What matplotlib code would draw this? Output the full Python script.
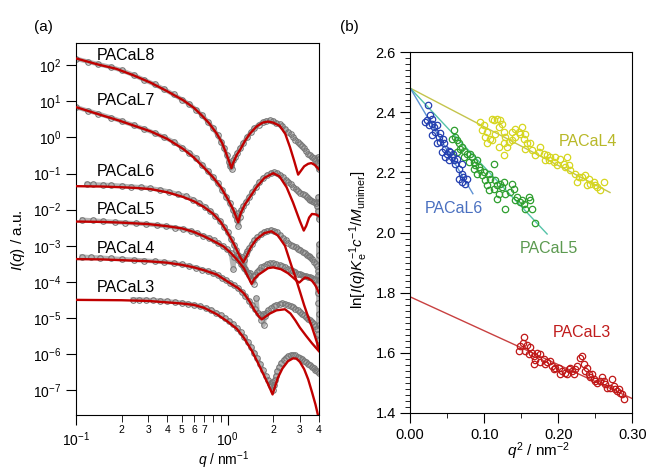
import numpy as np
import matplotlib
matplotlib.use("Agg")
import matplotlib.pyplot as plt
from matplotlib.ticker import NullLocator, FixedLocator

plt.rcParams['font.family'] = ['Liberation Sans', 'DejaVu Sans']
plt.rcParams['mathtext.fontset'] = 'custom'
plt.rcParams['mathtext.rm'] = 'Liberation Sans'
plt.rcParams['mathtext.it'] = 'Liberation Sans:italic'
plt.rcParams['mathtext.bf'] = 'Liberation Sans:bold'

# ---------------- panel (a): SAXS profiles, values as (q, log10 I) ----------------
samples = ['PACaL8', 'PACaL7', 'PACaL6', 'PACaL5', 'PACaL4', 'PACaL3']

fit_q = {
    'PACaL8': [0.10, 0.14, 0.185, 0.24, 0.31, 0.40, 0.51, 0.60, 0.68, 0.76, 0.85, 0.92, 0.98, 1.03, 1.06,
               1.09, 1.15, 1.21, 1.30, 1.40, 1.55, 1.70, 1.85, 2.00, 2.21, 2.40, 2.58, 2.75, 2.92, 3.05,
               3.20, 3.40, 3.57, 3.75, 4.00],
    'PACaL7': [0.10, 0.144, 0.195, 0.24, 0.31, 0.40, 0.51, 0.60, 0.70, 0.80, 0.90, 1.00, 1.09, 1.175,
               1.22, 1.30, 1.40, 1.55, 1.75, 2.00, 2.20, 2.45, 2.70, 3.00, 3.18, 3.30, 3.45, 3.60, 3.80, 4.00],
    'PACaL6': [0.10, 0.15, 0.20, 0.25, 0.31, 0.40, 0.51, 0.60, 0.70, 0.80, 0.90, 1.00, 1.10, 1.20, 1.27,
               1.33, 1.42, 1.55, 1.75, 1.95, 2.15, 2.39, 2.64, 2.78, 3.00, 3.20, 3.40, 3.60, 3.80, 4.00],
    'PACaL5': [0.10, 0.15, 0.20, 0.30, 0.40, 0.50, 0.60, 0.70, 0.80, 0.94, 1.05, 1.15, 1.28, 1.36, 1.44,
               1.50, 1.60, 1.71, 1.85, 2.00, 2.25, 2.50, 2.70, 2.85, 2.97, 3.10, 3.24, 3.40, 3.60, 3.80, 4.00],
    'PACaL4': [0.10, 0.15, 0.20, 0.30, 0.40, 0.50, 0.60, 0.70, 0.85, 0.94, 1.05, 1.17, 1.28, 1.40, 1.50,
               1.60, 1.68, 1.76, 1.90, 2.10, 2.39, 2.60, 2.80, 3.00, 3.30, 3.60, 4.00],
    'PACaL3': [0.10, 0.20, 0.30, 0.40, 0.50, 0.60, 0.70, 0.85, 1.00, 1.15, 1.28, 1.45, 1.60, 1.75, 1.87,
               1.98, 2.05, 2.15, 2.30, 2.50, 2.70, 2.85, 3.00, 3.20, 3.40, 3.60, 3.80, 4.00],
}
fit_logI = {
    'PACaL8': [2.19, 2.02, 1.90, 1.72, 1.52, 1.28, 1.03, 0.82, 0.60, 0.38, 0.10, -0.15, -0.45, -0.70, -0.85,
               -0.70, -0.48, -0.34, -0.10, 0.10, 0.30, 0.41, 0.44, 0.41, 0.32, 0.10, -0.27, -0.65, -1.03, -0.92,
               -0.80, -0.73, -0.71, -0.76, -0.88],
    'PACaL7': [0.84, 0.63, 0.46, 0.33, 0.17, -0.04, -0.32, -0.56, -0.84, -1.10, -1.37, -1.70, -2.00, -2.35,
               -2.10, -1.86, -1.66, -1.38, -1.12, -0.99, -1.08, -1.38, -1.80, -2.32, -2.58, -2.45, -2.22, -2.12,
               -2.13, -2.18],
    'PACaL6': [-1.35, -1.36, -1.38, -1.40, -1.43, -1.52, -1.65, -1.77, -1.93, -2.11, -2.34, -2.64, -2.95,
               -3.28, -3.46, -3.30, -3.05, -2.82, -2.65, -2.60, -2.72, -3.00, -3.56, -3.83, -4.27, -4.65, -4.97,
               -5.25, -5.55, -5.85],
    'PACaL5': [-2.33, -2.34, -2.36, -2.40, -2.46, -2.52, -2.62, -2.74, -2.86, -3.02, -3.20, -3.38, -3.62,
               -3.85, -4.06, -3.92, -3.80, -3.72, -3.62, -3.60, -3.65, -3.76, -3.88, -3.97, -4.02, -3.95, -3.88,
               -3.90, -3.97, -4.10, -4.30],
    'PACaL4': [-3.37, -3.38, -3.40, -3.43, -3.47, -3.53, -3.60, -3.68, -3.80, -3.92, -4.05, -4.17, -4.32,
               -4.55, -4.78, -4.95, -5.04, -4.98, -4.88, -4.79, -4.76, -4.88, -5.07, -5.27, -5.50, -5.70, -5.92],
    'PACaL3': [-4.50, -4.51, -4.53, -4.57, -4.60, -4.64, -4.72, -4.90, -5.10, -5.30, -5.55, -5.92, -6.28,
               -6.62, -6.88, -7.12, -6.92, -6.65, -6.40, -6.20, -6.12, -6.13, -6.22, -6.42, -6.70, -7.05, -7.40,
               -7.80],
}

dat_q = {
    'PACaL8': [0.10, 0.12, 0.14, 0.17, 0.20, 0.24, 0.28, 0.33, 0.38, 0.44, 0.50, 0.56, 0.62, 0.68, 0.74,
               0.80, 0.86, 0.91, 0.95, 0.99, 1.02, 1.04, 1.06, 1.07, 1.09, 1.12, 1.16, 1.21, 1.27, 1.34, 1.42,
               1.50, 1.60, 1.70, 1.80, 1.90, 2.00, 2.10, 2.20, 2.30, 2.40, 2.50, 2.60, 2.70, 2.80, 2.90, 3.00,
               3.10, 3.20, 3.30, 3.40, 3.50, 3.60, 3.70, 3.80, 3.90, 3.95, 4.00, 3.98, 3.92],
    'PACaL7': [0.10, 0.12, 0.14, 0.17, 0.20, 0.24, 0.28, 0.33, 0.38, 0.44, 0.50, 0.56, 0.62, 0.68, 0.74,
               0.80, 0.86, 0.92, 0.98, 1.03, 1.08, 1.12, 1.15, 1.17, 1.18, 1.20, 1.23, 1.27, 1.32, 1.38, 1.45,
               1.53, 1.62, 1.72, 1.82, 1.92, 2.02, 2.12, 2.22, 2.32, 2.42, 2.52, 2.62, 2.72, 2.82, 2.92, 3.02,
               3.12, 3.22, 3.32, 3.42, 3.52, 3.62, 3.72, 3.82, 3.90, 3.95, 3.98, 4.00, 3.97],
    'PACaL6': [0.118, 0.13, 0.15, 0.17, 0.20, 0.23, 0.27, 0.31, 0.36, 0.41, 0.47, 0.53, 0.59, 0.65, 0.71,
               0.77, 0.83, 0.89, 0.95, 1.00, 1.05, 1.10, 1.14, 1.18, 1.21, 1.24, 1.26, 1.28, 1.30, 1.32, 1.35,
               1.39, 1.44, 1.50, 1.57, 1.65, 1.73, 1.82, 1.92, 2.02, 2.12, 2.22, 2.32, 2.42, 2.52, 2.62, 2.72,
               2.82, 2.92, 3.02, 3.12, 3.22, 3.32, 3.42, 3.52, 3.62, 3.72, 3.82, 3.90, 3.95, 3.98, 4.00, 3.99],
    'PACaL5': [0.11, 0.13, 0.15, 0.18, 0.21, 0.25, 0.29, 0.34, 0.39, 0.45, 0.51, 0.57, 0.63, 0.69, 0.75,
               0.81, 0.87, 0.93, 0.99, 1.05, 1.09, 1.11, 1.17, 1.23, 1.29, 1.34, 1.38, 1.41, 1.44, 1.46, 1.49,
               1.52, 1.56, 1.61, 1.67, 1.74, 1.82, 1.90, 2.00, 2.10, 2.20, 2.30, 2.40, 2.50, 2.60, 2.70, 2.80,
               2.90, 3.00, 3.10, 3.20, 3.30, 3.40, 3.50, 3.60, 3.70, 3.80, 3.88, 3.94, 3.97, 4.00, 3.99, 3.96],
    'PACaL4': [0.109, 0.125, 0.145, 0.17, 0.20, 0.24, 0.28, 0.33, 0.38, 0.44, 0.50, 0.56, 0.62, 0.68, 0.74,
               0.80, 0.86, 0.92, 0.98, 1.04, 1.10, 1.17, 1.24, 1.31, 1.38, 1.45, 1.52, 1.55, 1.58, 1.63, 1.67,
               1.70, 1.73, 1.76, 1.80, 1.86, 1.93, 2.01, 2.10, 2.20, 2.30, 2.40, 2.50, 2.60, 2.70, 2.80, 2.90,
               3.00, 3.10, 3.20, 3.30, 3.40, 3.50, 3.60, 3.70, 3.80, 3.88, 3.94, 3.98, 4.00],
    'PACaL3': [0.237, 0.26, 0.29, 0.32, 0.36, 0.40, 0.45, 0.50, 0.55, 0.60, 0.66, 0.72, 0.78, 0.84, 0.90,
               0.96, 1.02, 1.08, 1.15, 1.22, 1.29, 1.36, 1.43, 1.50, 1.57, 1.64, 1.71, 1.78, 1.84, 1.89, 1.93,
               1.96, 1.98, 2.01, 2.04, 2.08, 2.13, 2.19, 2.26, 2.34, 2.42, 2.50, 2.60, 2.70, 2.80, 2.90, 3.00,
               3.10, 3.20, 3.30, 3.40, 3.50, 3.60, 3.70, 3.80, 3.90, 4.00],
}
dat_logI = {
    'PACaL8': [2.18, 2.10, 2.03, 1.95, 1.86, 1.73, 1.60, 1.47, 1.34, 1.19, 1.05, 0.92, 0.77, 0.61, 0.44,
               0.27, 0.06, -0.12, -0.30, -0.50, -0.68, -0.80, -0.75, -0.88, -0.62, -0.55, -0.42, -0.30, -0.15,
               0.00, 0.14, 0.25, 0.35, 0.42, 0.46, 0.47, 0.45, 0.41, 0.37, 0.31, 0.24, 0.16, 0.09, 0.02, -0.06,
               -0.12, -0.18, -0.24, -0.30, -0.38, -0.45, -0.50, -0.55, -0.58, -0.62, -0.70, -0.80, -0.88, -0.60,
               -0.55],
    'PACaL7': [0.84, 0.74, 0.66, 0.55, 0.45, 0.34, 0.24, 0.12, 0.01, -0.12, -0.28, -0.42, -0.58, -0.76, -0.93,
               -1.10, -1.27, -1.45, -1.64, -1.82, -2.00, -2.15, -2.30, -2.10, -2.45, -2.20, -2.02, -1.90, -1.78,
               -1.66, -1.52, -1.38, -1.24, -1.12, -1.04, -0.99, -0.97, -0.99, -1.04, -1.10, -1.17, -1.24, -1.30,
               -1.36, -1.42, -1.48, -1.53, -1.56, -1.60, -1.65, -1.70, -1.72, -1.76, -1.78, -1.82, -1.90, -2.05,
               -2.25, -1.80, -1.65],
    'PACaL6': [-1.29, -1.30, -1.31, -1.32, -1.34, -1.36, -1.38, -1.41, -1.45, -1.50, -1.57, -1.63, -1.72,
               -1.81, -1.92, -2.04, -2.17, -2.31, -2.47, -2.62, -2.80, -2.98, -3.12, -3.25, -3.35, -3.30, -3.55,
               -3.40, -3.65, -3.22, -3.15, -3.05, -2.95, -2.85, -2.76, -2.68, -2.62, -2.58, -2.56, -2.58, -2.63,
               -2.70, -2.78, -2.85, -2.92, -2.97, -3.00, -3.04, -3.08, -3.12, -3.16, -3.20, -3.25, -3.29, -3.32,
               -3.38, -3.44, -3.50, -3.55, -3.70, -3.25, -3.95, -2.95],
    'PACaL5': [-2.28, -2.30, -2.32, -2.34, -2.36, -2.38, -2.40, -2.43, -2.46, -2.50, -2.54, -2.59, -2.66,
               -2.72, -2.78, -2.85, -2.93, -3.02, -3.10, -3.20, -3.65, -3.30, -3.40, -3.52, -3.62, -3.72, -3.82,
               -3.75, -3.95, -3.85, -4.05, -3.80, -3.72, -3.66, -3.60, -3.55, -3.51, -3.49, -3.49, -3.51, -3.54,
               -3.57, -3.60, -3.64, -3.67, -3.71, -3.74, -3.77, -3.79, -3.81, -3.83, -3.85, -3.87, -3.88, -3.90,
               -3.92, -3.95, -4.05, -4.30, -4.60, -4.90, -5.20, -3.80],
    'PACaL4': [-3.30, -3.32, -3.33, -3.35, -3.37, -3.39, -3.41, -3.43, -3.45, -3.48, -3.52, -3.56, -3.61,
               -3.66, -3.71, -3.76, -3.82, -3.89, -3.96, -4.03, -4.10, -4.18, -4.28, -4.40, -4.52, -4.65, -4.75,
               -4.46, -4.85, -4.92, -5.05, -4.88, -5.20, -4.95, -4.85, -4.78, -4.72, -4.67, -4.63, -4.61, -4.60,
               -4.61, -4.63, -4.66, -4.70, -4.74, -4.78, -4.83, -4.88, -4.93, -4.98, -5.03, -5.07, -5.11, -5.16,
               -5.22, -5.30, -5.45, -5.60, -5.75],
    'PACaL3': [-4.49, -4.49, -4.50, -4.51, -4.52, -4.54, -4.56, -4.58, -4.61, -4.64, -4.68, -4.73, -4.78,
               -4.85, -4.92, -5.00, -5.08, -5.17, -5.28, -5.40, -5.53, -5.67, -5.81, -5.96, -6.12, -6.28, -6.45,
               -6.60, -6.72, -6.82, -6.90, -6.78, -7.00, -6.85, -6.72, -6.60, -6.48, -6.36, -6.25, -6.16, -6.10,
               -6.06, -6.03, -6.02, -6.04, -6.07, -6.11, -6.15, -6.19, -6.23, -6.27, -6.31, -6.35, -6.39, -6.43,
               -6.48, -6.52],
}

label_logI = {'PACaL8': 2.28, 'PACaL7': 1.03, 'PACaL6': -0.94,
              'PACaL5': -2.0, 'PACaL4': -3.08, 'PACaL3': -4.17}

# ---------------- panel (b): Guinier plots ----------------
q2_L6 = [0.0239, 0.0225, 0.0203, 0.027, 0.0293, 0.0248, 0.0315, 0.036, 0.0338, 0.0293, 0.0383, 0.0405,
         0.036, 0.045, 0.0473, 0.0428, 0.0496, 0.0541, 0.0473, 0.0563, 0.0518, 0.0586, 0.0608, 0.0631,
         0.0698, 0.0653, 0.0698, 0.072, 0.0766, 0.0653, 0.0698, 0.0743, 0.030, 0.040, 0.052, 0.058, 0.044]
ln_L6 = [2.423, 2.373, 2.368, 2.39, 2.376, 2.357, 2.351, 2.357, 2.334, 2.323, 2.318, 2.301,
         2.296, 2.296, 2.279, 2.268, 2.262, 2.268, 2.251, 2.251, 2.24, 2.24, 2.229, 2.246,
         2.229, 2.212, 2.196, 2.184, 2.179, 2.179, 2.168, 2.162, 2.36, 2.33, 2.27, 2.26, 2.31]

q2_L5 = [0.0586, 0.0608, 0.0563, 0.0631, 0.0653, 0.0676, 0.0698, 0.0721, 0.0631, 0.0766, 0.0811, 0.0721,
         0.0833, 0.0788, 0.0856, 0.0901, 0.0878, 0.0923, 0.0856, 0.0946, 0.0901, 0.0968, 0.0991, 0.1059,
         0.1126, 0.1081, 0.1014, 0.1036, 0.1059, 0.1149, 0.1171, 0.1216, 0.1239, 0.1261, 0.1126, 0.1194,
         0.1284, 0.1374, 0.1396, 0.1351, 0.1441, 0.1419, 0.1486, 0.1532, 0.1599, 0.1622, 0.1644, 0.1554,
         0.1509, 0.1284, 0.1689, 0.1171]
ln_L5 = [2.340, 2.318, 2.312, 2.307, 2.296, 2.279, 2.284, 2.271, 2.268, 2.262, 2.260, 2.251,
         2.251, 2.234, 2.234, 2.240, 2.223, 2.218, 2.212, 2.207, 2.196, 2.190, 2.201, 2.196,
         2.229, 2.179, 2.173, 2.157, 2.140, 2.173, 2.157, 2.162, 2.151, 2.168, 2.146, 2.129,
         2.129, 2.162, 2.146, 2.134, 2.118, 2.107, 2.101, 2.096, 2.118, 2.107, 2.079, 2.079,
         2.107, 2.079, 2.031, 2.112]

q2_L4 = [0.0946, 0.0991, 0.0968, 0.1036, 0.1014, 0.1081, 0.1036, 0.1104, 0.1149, 0.1126, 0.1171, 0.1104,
         0.1216, 0.1194, 0.1239, 0.1261, 0.1284, 0.1306, 0.1261, 0.1329, 0.1374, 0.1374, 0.1419, 0.1464,
         0.1509, 0.1486, 0.1419, 0.1532, 0.1554, 0.1577, 0.1622, 0.1554, 0.1644, 0.1689, 0.1734, 0.1757,
         0.1802, 0.1847, 0.1892, 0.1869, 0.1824, 0.1937, 0.1959, 0.2027, 0.2072, 0.2117, 0.2095, 0.2140,
         0.2162, 0.2230, 0.2275, 0.2320, 0.2365, 0.2410, 0.2432, 0.2477, 0.2523, 0.2568, 0.2613, 0.2500,
         0.2252, 0.2387, 0.1982, 0.1261, 0.1194]
ln_L4 = [2.368, 2.357, 2.340, 2.334, 2.318, 2.312, 2.296, 2.307, 2.329, 2.373, 2.379, 2.379,
         2.373, 2.351, 2.362, 2.334, 2.318, 2.284, 2.296, 2.301, 2.307, 2.334, 2.345, 2.334,
         2.351, 2.329, 2.318, 2.312, 2.329, 2.296, 2.296, 2.279, 2.273, 2.257, 2.268, 2.284,
         2.262, 2.257, 2.251, 2.240, 2.240, 2.234, 2.251, 2.246, 2.229, 2.251, 2.218, 2.223,
         2.207, 2.196, 2.184, 2.184, 2.190, 2.179, 2.162, 2.168, 2.151, 2.140, 2.168, 2.157,
         2.168, 2.157, 2.223, 2.257, 2.284]

q2_L3 = [0.1464, 0.1486, 0.1541, 0.1523, 0.1577, 0.1554, 0.1622, 0.1644, 0.1599, 0.1667, 0.1712, 0.1748,
         0.1689, 0.1667, 0.1757, 0.1802, 0.1847, 0.1824, 0.1892, 0.1914, 0.1959, 0.1937, 0.2005, 0.2050,
         0.2027, 0.2095, 0.2140, 0.2162, 0.2117, 0.2185, 0.2207, 0.2230, 0.2252, 0.2297, 0.2320, 0.2342,
         0.2365, 0.2387, 0.2410, 0.2455, 0.2432, 0.2500, 0.2477, 0.2523, 0.2568, 0.2590, 0.2613, 0.2635,
         0.2658, 0.2725, 0.2748, 0.2703, 0.2770, 0.2815, 0.2793, 0.2838, 0.2883, 0.2860]
ln_L3 = [1.607, 1.623, 1.651, 1.634, 1.627, 1.607, 1.618, 1.601, 1.596, 1.590, 1.601, 1.596,
         1.576, 1.562, 1.568, 1.579, 1.568, 1.562, 1.573, 1.557, 1.551, 1.546, 1.551, 1.540,
         1.529, 1.534, 1.546, 1.551, 1.529, 1.540, 1.529, 1.546, 1.557, 1.584, 1.590, 1.562,
         1.540, 1.551, 1.529, 1.529, 1.518, 1.507, 1.512, 1.501, 1.507, 1.518, 1.507, 1.496,
         1.484, 1.512, 1.490, 1.484, 1.479, 1.479, 1.473, 1.468, 1.446, 1.462]

# Guinier fit lines (end points)
line_q2 = {'PACaL4': [0.0, 0.270], 'PACaL5': [0.0, 0.185], 'PACaL6': [0.0, 0.0847], 'PACaL3': [0.0, 0.30]}
line_ln = {'PACaL4': [2.48, 2.133], 'PACaL5': [2.48, 1.995], 'PACaL6': [2.48, 2.129], 'PACaL3': [1.786, 1.448]}

fig = plt.figure(figsize=(6.46, 4.70), dpi=100)
ax1 = fig.add_axes([0.1176, 0.117, 0.376, 0.791])
ax2 = fig.add_axes([0.635, 0.1213, 0.3437, 0.768])

# ---- (a)
for s in samples:
    qd = np.array(dat_q[s])
    Id = np.power(10.0, dat_logI[s])
    order = np.argsort(qd)
    ax1.plot(qd[order], Id[order], '-', color='#8c8c8c', lw=3.2, alpha=0.65, zorder=1)
    ax1.plot(qd, Id, 'o', ms=4.0, mfc='none', mec='#777777', mew=0.8, zorder=2)
    ax1.plot(fit_q[s], np.power(10.0, fit_logI[s]), '-', color='#c00000', lw=1.7, zorder=3)
    ax1.text(0.1375, 10 ** label_logI[s], s, fontsize=11.5, ha='left', va='center')

ax1.set_xscale('log')
ax1.set_yscale('log')
ax1.set_xlim(0.1, 4)
ax1.set_ylim(10 ** -7.69, 10 ** 2.61)
ax1.set_yticks([10.0 ** k for k in range(-7, 3)])
ax1.yaxis.set_minor_locator(NullLocator())
ax1.set_xticks([0.1, 1.0])
ax1.set_xticklabels([r'$10^{-1}$', r'$10^{0}$'])
minor_x = [0.2, 0.3, 0.4, 0.5, 0.6, 0.7, 0.8, 0.9, 2, 3, 4]
ax1.xaxis.set_minor_locator(FixedLocator(minor_x))
ax1.set_xticklabels(['2', '3', '4', '5', '6', '7', '', '', '2', '3', '4'], minor=True)
ax1.tick_params(axis='x', which='major', direction='out', length=7, pad=4, labelsize=10)
ax1.tick_params(axis='x', which='minor', direction='out', length=5, pad=2, labelsize=7.5)
ax1.tick_params(axis='y', which='major', direction='out', length=7, labelsize=10)
ax1.set_xlabel(r'$q$ / nm$^{-1}$', fontsize=10)
ax1.xaxis.set_label_coords(0.609, -0.093)
ax1.set_ylabel(r'$I$($q$) / a.u.', fontsize=11)
ax1.yaxis.set_label_coords(-0.20, 0.47)

# ---- (b)
ax2.plot(line_q2['PACaL4'], line_ln['PACaL4'], '-', color='#c4c44c', lw=1.0)
ax2.plot(line_q2['PACaL5'], line_ln['PACaL5'], '-', color='#55c3a8', lw=1.0)
ax2.plot(line_q2['PACaL6'], line_ln['PACaL6'], '-', color='#5f93d4', lw=1.0)
ax2.plot(line_q2['PACaL3'], line_ln['PACaL3'], '-', color='#c84040', lw=1.0)

mk = dict(ls='none', marker='o', ms=4.6, mfc='none', mew=0.9)
ax2.plot(q2_L4, ln_L4, mec='#d6d620', **mk)
ax2.plot(q2_L5, ln_L5, mec='#2e9e2e', **mk)
ax2.plot(q2_L6, ln_L6, mec='#2440b0', **mk)
ax2.plot(q2_L3, ln_L3, mec='#c01818', **mk)

ax2.text(0.240, 2.301, 'PACaL4', color='#b8b828', fontsize=11.5, ha='center', va='center')
ax2.text(0.0595, 2.080, 'PACaL6', color='#4a70c0', fontsize=11.5, ha='center', va='center')
ax2.text(0.187, 1.947, 'PACaL5', color='#5c9a50', fontsize=11.5, ha='center', va='center')
ax2.text(0.2325, 1.668, 'PACaL3', color='#c01c1c', fontsize=11.5, ha='center', va='center')

ax2.set_xlim(0, 0.30)
ax2.set_ylim(1.4, 2.6)
ax2.set_xticks([0.0, 0.1, 0.2, 0.3])
ax2.set_xticklabels(['0.00', '0.10', '0.20', '0.30'])
ax2.set_xticks([0.05, 0.15, 0.25], minor=True)
ax2.set_yticks([1.4, 1.6, 1.8, 2.0, 2.2, 2.4, 2.6])
ax2.set_yticklabels(['1.4', '1.6', '1.8', '2.0', '2.2', '2.4', '2.6'])
ax2.set_yticks(np.arange(1.40, 2.601, 0.02), minor=True)
ax2.tick_params(which='major', direction='out', length=7, labelsize=10.5)
ax2.tick_params(which='minor', direction='out', length=3.5)
ax2.set_xlabel(r'$q^2$ / nm$^{-2}$', fontsize=11)
ax2.xaxis.set_label_coords(0.577, -0.075)
ax2.set_ylabel(r'ln[$I$($q$)$K_\mathrm{e}^{-1}c^{-1}$/$M_\mathrm{unimer}$]', fontsize=11)
ax2.yaxis.set_label_coords(-0.18, 0.48)

fig.text(43 / 646, 1 - 27 / 470, '(a)', fontsize=11, ha='center', va='center')
fig.text(349 / 646, 1 - 27 / 470, '(b)', fontsize=11, ha='center', va='center')

fig.savefig('out.png', dpi=100)
